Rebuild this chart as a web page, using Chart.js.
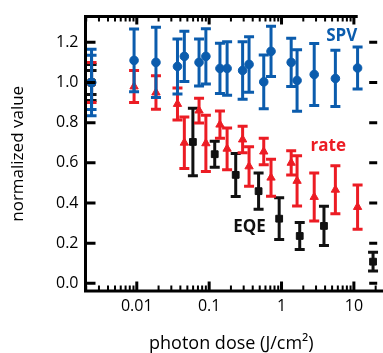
<!DOCTYPE html>
<html><head><meta charset="utf-8">
<script src="https://cdn.jsdelivr.net/npm/chart.js@4/dist/chart.umd.min.js"></script>
<style>
html,body{margin:0;padding:0;background:#fff;overflow:hidden;}
#wrap{position:relative;width:383px;height:353px;}
</style></head><body>
<div id="wrap"><canvas id="c" width="383" height="353"></canvas></div>
<script>
// ---- data ----
const X_TICKS = [0.01, 0.1, 1, 10];
const X_TICK_LABELS = ['0.01', '0.1', '1', '10'];
const Y_TICKS = [0, 0.2, 0.4, 0.6, 0.8, 1.0, 1.2];
const Y_TICK_LABELS = ['0.0', '0.2', '0.4', '0.6', '0.8', '1.0', '1.2'];
const X_MIN = 0.001955, X_MAX = 21.0, Y_MIN = -0.038, Y_MAX = 1.328;
const TOP_AXIS_END = 11.3;

const SPV_X   = [0.00237, 0.00237, 0.00917, 0.0184, 0.0365, 0.0454, 0.0725, 0.0901, 0.141, 0.177, 0.290, 0.356, 0.568, 0.716, 1.36, 1.64, 2.83, 5.55, 11.25];
const SPV_Y   = [1.0, 1.0, 1.11, 1.10, 1.08, 1.13, 1.10, 1.13, 1.07, 1.07, 1.06, 1.09, 1.003, 1.155, 1.10, 1.01, 1.04, 1.02, 1.072];
const SPV_ERR = [0.165, 0.135, 0.156, 0.175, 0.137, 0.125, 0.117, 0.138, 0.125, 0.133, 0.143, 0.138, 0.134, 0.125, 0.12, 0.153, 0.154, 0.14, 0.105];

const RATE_X   = [0.00237, 0.00917, 0.0184, 0.0365, 0.0454, 0.0725, 0.0901, 0.141, 0.177, 0.290, 0.356, 0.568, 0.716, 1.36, 1.64, 2.83, 5.55, 11.25];
const RATE_Y   = [1.0, 0.98, 0.95, 0.893, 0.70, 0.86, 0.697, 0.79, 0.67, 0.716, 0.582, 0.656, 0.526, 0.60, 0.51, 0.43, 0.466, 0.38];
const RATE_ERR = [0.10, 0.08, 0.083, 0.08, 0.128, 0.062, 0.14, 0.068, 0.104, 0.066, 0.098, 0.066, 0.092, 0.06, 0.125, 0.12, 0.12, 0.11];

const EQE_X   = [0.00237, 0.00237, 0.0596, 0.1194, 0.2328, 0.482, 0.928, 1.785, 3.86, 18.4];
const EQE_Y   = [1.0, 1.0, 0.704, 0.643, 0.54, 0.459, 0.322, 0.236, 0.286, 0.108];
const EQE_ERR = [0.06, 0.09, 0.168, 0.065, 0.107, 0.09, 0.104, 0.067, 0.098, 0.047];

const SERIES_NAMES = ['SPV', 'rate', 'EQE'];
const LABEL_X = [6.78, 4.42, 0.36];
const LABEL_Y = [1.231, 0.685, 0.282];

const X_TITLE = 'photon dose (J/cm²)';
const Y_TITLE = 'normalized value';

// ---- styles ----
const COLORS = ['#0b5cad', '#ec1c24', '#111111'];
const FONT = '"Open Sans", "Noto Sans", sans-serif';

const pts = (xs, ys) => xs.map((x, i) => ({x: x, y: ys[i]}));
const ERRS = [SPV_ERR, RATE_ERR, EQE_ERR];

const errorBars = {
  id: 'errorBars',
  beforeDatasetDraw(chart, args) {
    const ctx = chart.ctx, xs = chart.scales.x, ys = chart.scales.y;
    const ds = chart.data.datasets[args.index];
    const errs = ERRS[args.index];
    ctx.save();
    ctx.strokeStyle = ds.borderColor;
    ctx.lineWidth = 3;
    ctx.lineCap = 'butt';
    ds.data.forEach((p, i) => {
      const x = xs.getPixelForValue(p.x);
      const yt = ys.getPixelForValue(p.y + errs[i]);
      const yb = ys.getPixelForValue(p.y - errs[i]);
      ctx.beginPath();
      ctx.moveTo(x, yt); ctx.lineTo(x, yb);
      ctx.moveTo(x - 5, yt); ctx.lineTo(x + 5, yt);
      ctx.moveTo(x - 5, yb); ctx.lineTo(x + 5, yb);
      ctx.stroke();
    });
    ctx.restore();
  }
};

const frame = {
  id: 'frame',
  afterDatasetsDraw(chart) {
    const ctx = chart.ctx, xs = chart.scales.x, ys = chart.scales.y;
    const {left, right, top, bottom} = chart.chartArea;
    const topEnd = xs.getPixelForValue(TOP_AXIS_END);
    ctx.save();
    ctx.strokeStyle = '#000';
    ctx.lineCap = 'butt';
    ctx.lineWidth = 3;
    ctx.beginPath();
    ctx.moveTo(left, top - 1.5); ctx.lineTo(left, bottom + 1.5);
    ctx.moveTo(left - 1.5, bottom); ctx.lineTo(chart.width, bottom);
    ctx.moveTo(left - 1.5, top); ctx.lineTo(topEnd, top);
    ctx.stroke();
    // y major ticks (inward, both sides)
    ctx.beginPath();
    Y_TICKS.forEach(v => {
      const y = ys.getPixelForValue(v);
      ctx.moveTo(left, y); ctx.lineTo(left + 10, y);
      ctx.moveTo(right - 8, y); ctx.lineTo(right, y);
    });
    // x major ticks
    X_TICKS.forEach(v => {
      const x = xs.getPixelForValue(v);
      ctx.moveTo(x, bottom); ctx.lineTo(x, bottom - 9.5);
      if (v <= TOP_AXIS_END) { ctx.moveTo(x, top); ctx.lineTo(x, top + 8); }
    });
    ctx.stroke();
    // x minor ticks
    ctx.lineWidth = 2;
    ctx.beginPath();
    for (let k = -3; k <= 1; k++) {
      for (let m = 2; m <= 9; m++) {
        const v = m * Math.pow(10, k);
        if (v <= X_MIN || v >= X_MAX) continue;
        const x = xs.getPixelForValue(v);
        ctx.moveTo(x, bottom); ctx.lineTo(x, bottom - 5.5);
        if (v <= TOP_AXIS_END) { ctx.moveTo(x, top); ctx.lineTo(x, top + 5); }
      }
    }
    ctx.stroke();
    // series labels
    ctx.font = 'bold 17px ' + FONT;
    ctx.textAlign = 'center';
    ctx.textBaseline = 'middle';
    SERIES_NAMES.forEach((t, i) => {
      ctx.fillStyle = COLORS[i];
      ctx.fillText(t, xs.getPixelForValue(LABEL_X[i]), ys.getPixelForValue(LABEL_Y[i]));
    });
    ctx.restore();
  }
};

Chart.defaults.color = '#000';
Chart.defaults.font.family = FONT;

const mk = (label, data, i, style, r) => ({
  label: label, data: data,
  borderColor: COLORS[i], backgroundColor: COLORS[i],
  pointStyle: style, pointRadius: r, pointHoverRadius: r, borderWidth: 1,
  showLine: false, clip: false
});

new Chart(document.getElementById('c'), {
  type: 'scatter',
  data: {
    datasets: [
      mk(SERIES_NAMES[0], pts(SPV_X, SPV_Y), 0, 'circle', 4.3),
      mk(SERIES_NAMES[1], pts(RATE_X, RATE_Y), 1, 'triangle', 4.8),
      mk(SERIES_NAMES[2], pts(EQE_X, EQE_Y), 2, 'rect', 4.8)
    ]
  },
  options: {
    responsive: false,
    animation: false,
    devicePixelRatio: 1,
    events: [],
    layout: {padding: {left: 0, right: 0, top: 13.3, bottom: 0}},
    plugins: {legend: {display: false}, tooltip: {enabled: false}},
    scales: {
      x: {
        type: 'logarithmic', min: X_MIN, max: X_MAX,
        grid: {display: false, drawTicks: false},
        border: {display: false},
        afterBuildTicks: s => { s.ticks = X_TICKS.map(v => ({value: v})); },
        afterFit: s => { s.height = 62; },
        ticks: {
          autoSkip: false, maxRotation: 0, padding: 6,
          font: {size: 16},
          callback: (v) => { const i = X_TICKS.indexOf(v); return i >= 0 ? X_TICK_LABELS[i] : ''; }
        },
        title: {display: true, text: X_TITLE, font: {size: 18, lineHeight: 1}, padding: {top: 0, bottom: 0}}
      },
      y: {
        type: 'linear', min: Y_MIN, max: Y_MAX,
        grid: {display: false, drawTicks: false},
        border: {display: false},
        afterBuildTicks: s => { s.ticks = Y_TICKS.map(v => ({value: v})); },
        afterFit: s => { s.width = 85.5; },
        ticks: {
          padding: 7, font: {size: 16},
          callback: (v) => { const i = Y_TICKS.findIndex(t => Math.abs(t - v) < 1e-9); return i >= 0 ? Y_TICK_LABELS[i] : ''; }
        },
        title: {display: true, text: Y_TITLE, font: {size: 17}, padding: {top: 8, bottom: 0}}
      }
    }
  },
  plugins: [errorBars, frame]
});
</script>
</body></html>
